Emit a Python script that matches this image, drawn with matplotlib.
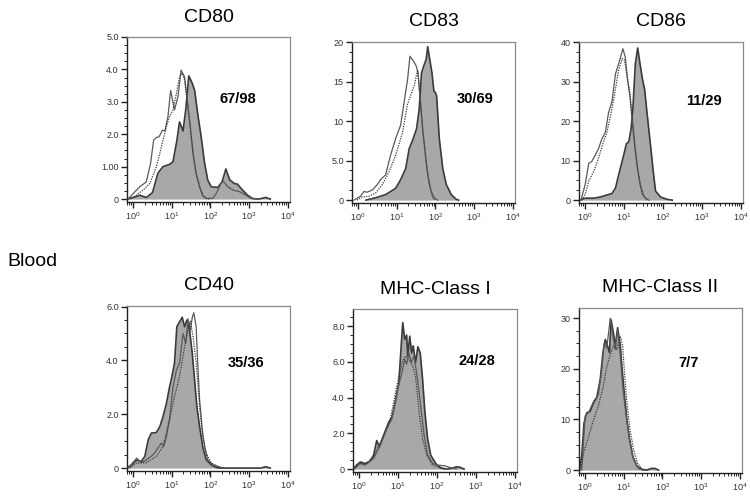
import numpy as np
import matplotlib
matplotlib.use("Agg")
import matplotlib.pyplot as plt
from matplotlib.ticker import FixedLocator, AutoMinorLocator, LogLocator, LogFormatterSciNotation, NullFormatter

plt.rcParams['font.family'] = ['Liberation Sans', 'DejaVu Sans']

# ---------------- data (x values are log10 of fluorescence) ----------------
titles = ["CD80", "CD83", "CD86", "CD40", "MHC-Class I", "MHC-Class II"]
ratios = ["67/98", "30/69", "11/29", "35/36", "24/28", "7/7"]
ratio_pos_log = [2.7, 3.02, 3.06, 2.92, 3.02, 2.67]
ratio_pos_y = [3.1, 12.8, 25.0, 3.9, 6.05, 21.2]
ytick_vals = [[0, 1, 2, 3, 4, 5], [0, 5, 10, 15, 20], [0, 10, 20, 30, 40],
              [0, 2, 4, 6], [0, 2, 4, 6, 8], [0, 10, 20, 30]]
ytick_labels = [["0", "1.00", "2.0", "3.0", "4.0", "5.0"], ["0", "5.0", "10", "15", "20"],
                ["0", "10", "20", "30", "40"], ["0", "2.0", "4.0", "6.0"],
                ["0", "2.0", "4.0", "6.0", "8.0"], ["0", "10", "20", "30"]]
ymax = [5.0, 20.0, 40.0, 6.02, 8.96, 32.0]
row_label = "Blood"

# CD80
cd80_fill_x = [-0.17, 0.0, 0.17, 0.34, 0.5, 0.64, 0.77, 0.94, 1.03, 1.13, 1.2, 1.29, 1.36, 1.44, 1.53, 1.59, 1.67, 1.76, 1.85, 1.93, 2.02, 2.19, 2.3, 2.4, 2.5, 2.62, 2.7, 2.83, 2.96, 3.09, 3.25, 3.43, 3.55]
cd80_fill_y = [0, 0.05, 0.12, 0.05, 0.2, 0.8, 1.0, 1.07, 1.15, 1.8, 2.38, 2.1, 2.75, 3.8, 3.57, 3.36, 2.64, 1.92, 1.1, 0.59, 0.38, 0.36, 0.53, 0.93, 0.59, 0.48, 0.46, 0.28, 0.12, 0.02, 0, 0.05, 0]
cd80_solid_x = [-0.13, 0.0, 0.17, 0.34, 0.45, 0.53, 0.6, 0.67, 0.76, 0.82, 0.9, 0.97, 1.07, 1.16, 1.24, 1.33, 1.39, 1.46, 1.55, 1.63, 1.72, 1.8, 1.89, 2.06, 2.15, 2.27, 2.33, 2.45, 2.58, 2.75, 2.92, 3.05, 3.2]
cd80_solid_y = [0, 0.17, 0.38, 0.53, 1.1, 1.82, 1.9, 1.92, 2.13, 2.1, 2.54, 3.35, 2.75, 3.16, 3.98, 3.77, 3.16, 2.44, 1.41, 0.79, 0.38, 0.12, 0.02, 0.02, 0.17, 0.48, 0.55, 0.38, 0.28, 0.23, 0.12, 0.02, 0]
cd80_dot_x = [-0.1, 0.0, 0.26, 0.43, 0.6, 0.69, 0.77, 0.86, 0.94, 1.03, 1.12, 1.2, 1.27, 1.33, 1.39, 1.46, 1.55, 1.63, 1.72, 1.8, 1.89, 2.0]
cd80_dot_y = [0, 0.05, 0.28, 0.48, 1.0, 1.41, 1.82, 2.23, 2.54, 2.75, 3.26, 3.77, 3.88, 3.67, 3.1, 2.4, 1.4, 0.78, 0.37, 0.1, 0.02, 0]

# CD83
cd83_fill_x = [0.2, 0.45, 0.71, 0.97, 1.1, 1.23, 1.32, 1.41, 1.51, 1.58, 1.64, 1.7, 1.76, 1.8, 1.86, 1.91, 1.96, 2.0, 2.03, 2.1, 2.19, 2.28, 2.41, 2.54, 2.6]
cd83_fill_y = [0, 0.3, 0.7, 1.5, 2.6, 4.0, 6.5, 7.6, 9.0, 11.5, 16.1, 17.0, 17.8, 19.4, 17.6, 16.1, 13.8, 13.6, 13.2, 7.8, 4.0, 2.0, 0.7, 0.1, 0]
cd83_solid_x = [-0.11, 0.06, 0.15, 0.23, 0.37, 0.5, 0.58, 0.71, 0.84, 0.97, 1.1, 1.19, 1.28, 1.34, 1.43, 1.5, 1.55, 1.6, 1.67, 1.74, 1.8, 1.89, 1.97, 2.06]
cd83_solid_y = [0, 0.5, 1.1, 1.0, 1.3, 2.0, 2.6, 3.2, 5.7, 7.8, 9.5, 12.4, 15.3, 18.2, 17.6, 17.0, 16.1, 13.2, 9.0, 5.7, 3.2, 1.1, 0.3, 0]
cd83_dot_x = [-0.03, 0.1, 0.28, 0.45, 0.63, 0.8, 0.97, 1.15, 1.28, 1.37, 1.45, 1.54, 1.6, 1.67, 1.76, 1.84, 1.93, 2.0]
cd83_dot_y = [0, 0.4, 0.5, 0.9, 2.0, 3.6, 5.7, 8.6, 12.2, 13.4, 14.5, 16.5, 13.0, 9.0, 4.9, 2.0, 0.3, 0]

# CD86
cd86_fill_x = [-0.13, 0.0, 0.22, 0.39, 0.56, 0.69, 0.78, 0.86, 0.95, 1.01, 1.06, 1.12, 1.18, 1.23, 1.29, 1.35, 1.41, 1.47, 1.53, 1.59, 1.68, 1.75, 1.81, 1.94, 2.11, 2.24]
cd86_fill_y = [0, 0.5, 0.5, 0.8, 1.3, 1.7, 3.1, 6.4, 9.8, 12.2, 14.3, 14.7, 18.0, 23.8, 34.5, 38.5, 34.5, 30.8, 27.9, 22.1, 13.9, 7.3, 2.3, 0.8, 0.2, 0]
cd86_solid_x = [-0.11, 0.0, 0.09, 0.17, 0.26, 0.34, 0.43, 0.52, 0.6, 0.69, 0.78, 0.86, 0.97, 1.03, 1.09, 1.15, 1.21, 1.27, 1.34, 1.41, 1.47, 1.55, 1.64]
cd86_solid_y = [0, 4.0, 9.3, 9.8, 11.4, 13.0, 15.5, 17.2, 22.1, 25.0, 32.0, 34.5, 38.3, 36.2, 30.4, 26.3, 19.7, 13.9, 8.1, 4.0, 1.5, 0.5, 0]
cd86_dot_x = [-0.09, 0.0, 0.09, 0.22, 0.34, 0.47, 0.56, 0.65, 0.75, 0.86, 0.95, 1.01, 1.08, 1.15, 1.22, 1.29, 1.35, 1.42, 1.51, 1.59]
cd86_dot_y = [0, 1.5, 4.8, 7.3, 10.6, 14.7, 17.2, 21.3, 26.3, 32.9, 35.8, 35.4, 31.2, 27.1, 20.5, 13.0, 8.1, 4.0, 1.0, 0]

# CD40
cd40_fill_x = [-0.17, -0.04, 0.09, 0.21, 0.3, 0.39, 0.47, 0.6, 0.69, 0.77, 0.86, 0.94, 1.01, 1.07, 1.13, 1.2, 1.27, 1.33, 1.39, 1.46, 1.53, 1.59, 1.65, 1.72, 1.8, 1.89, 2.02, 2.15, 2.25, 3.3, 3.43, 3.55]
cd40_fill_y = [0, 0.12, 0.3, 0.25, 0.43, 1.05, 1.3, 1.32, 1.54, 1.9, 2.4, 3.0, 3.45, 3.9, 5.25, 5.43, 5.6, 5.25, 5.5, 5.12, 4.26, 3.27, 2.28, 1.54, 0.8, 0.31, 0.12, 0.02, 0, 0, 0.05, 0]
cd40_solid_x = [-0.13, 0.09, 0.21, 0.34, 0.52, 0.64, 0.73, 0.79, 0.86, 0.94, 1.03, 1.12, 1.2, 1.29, 1.36, 1.42, 1.48, 1.53, 1.57, 1.63, 1.67, 1.72, 1.79, 1.85, 1.93, 2.06, 2.23, 2.35]
cd40_solid_y = [0, 0.37, 0.2, 0.3, 0.5, 0.74, 0.93, 0.8, 1.17, 1.8, 3.0, 3.64, 3.9, 5.0, 4.63, 5.55, 5.12, 5.6, 5.77, 5.25, 3.9, 2.53, 1.42, 0.8, 0.31, 0.12, 0.04, 0]
cd40_dot_x = [-0.09, 0.09, 0.34, 0.6, 0.77, 0.86, 0.94, 1.07, 1.2, 1.33, 1.42, 1.48, 1.55, 1.63, 1.72, 1.8, 1.89, 2.02, 2.23, 2.35]
cd40_dot_y = [0, 0.19, 0.2, 0.43, 0.8, 1.3, 1.8, 2.65, 3.4, 4.5, 5.12, 5.45, 4.88, 3.9, 2.28, 1.17, 0.56, 0.19, 0.04, 0]

# MHC-Class I
mhc1_fill_x = [-0.16, -0.07, 0.03, 0.15, 0.28, 0.37, 0.45, 0.52, 0.63, 0.76, 0.84, 0.93, 1.02, 1.08, 1.12, 1.17, 1.22, 1.25, 1.3, 1.35, 1.39, 1.45, 1.51, 1.57, 1.63, 1.69, 1.76, 1.84, 1.97, 2.1, 2.25, 2.4, 2.5, 2.6, 2.7]
mhc1_fill_y = [0, 0.22, 0.4, 0.31, 0.44, 0.78, 1.6, 1.24, 1.9, 2.63, 2.9, 3.74, 4.85, 6.9, 8.2, 7.26, 7.5, 6.33, 7.44, 6.5, 6.9, 5.96, 6.85, 6.5, 5.04, 3.19, 1.7, 0.78, 0.31, 0.07, 0, 0.05, 0.13, 0.1, 0]
mhc1_solid_x = [-0.12, 0.02, 0.15, 0.37, 0.54, 0.71, 0.84, 0.97, 1.1, 1.17, 1.22, 1.28, 1.34, 1.41, 1.5, 1.58, 1.67, 1.76, 1.89, 2.02, 2.19, 2.37, 2.5]
mhc1_solid_y = [0, 0.31, 0.22, 0.59, 1.33, 2.26, 2.8, 4.3, 5.4, 6.15, 5.87, 6.5, 5.96, 6.33, 5.04, 3.56, 1.9, 0.78, 0.31, 0.22, 0.19, 0.07, 0]
mhc1_dot_x = [-0.16, -0.03, 0.19, 0.41, 0.63, 0.8, 0.97, 1.1, 1.19, 1.28, 1.37, 1.45, 1.54, 1.63, 1.74, 1.89, 2.06, 2.2]
mhc1_dot_y = [0, 0.31, 0.31, 0.87, 1.9, 2.8, 4.67, 5.96, 6.33, 6.15, 5.78, 5.2, 3.19, 1.7, 0.78, 0.22, 0.07, 0]

# MHC-Class II
mhc2_fill_x = [-0.15, -0.09, -0.03, 0.04, 0.13, 0.22, 0.3, 0.39, 0.46, 0.52, 0.58, 0.63, 0.67, 0.73, 0.78, 0.84, 0.91, 0.95, 1.01, 1.08, 1.15, 1.23, 1.34, 1.47, 1.6, 1.7, 1.8, 1.9]
mhc2_fill_y = [0, 2.8, 9.3, 11.3, 11.6, 13.3, 14.3, 17.9, 23.2, 25.8, 24.5, 23.2, 29.7, 27.1, 24.5, 28.1, 24.5, 20.5, 15.3, 10.0, 6.05, 2.76, 0.8, 0.13, 0, 0.3, 0.35, 0]
mhc2_solid_x = [-0.09, 0.0, 0.09, 0.22, 0.34, 0.43, 0.49, 0.56, 0.65, 0.72, 0.78, 0.84, 0.91, 0.97, 1.06, 1.15, 1.25, 1.38, 1.5]
mhc2_solid_y = [0, 10.7, 11.4, 13.6, 14.9, 19.9, 25.1, 24.1, 30.0, 26.4, 23.8, 27.8, 22.5, 16.6, 10.7, 6.0, 2.1, 0.3, 0]
mhc2_dot_x = [-0.13, -0.04, 0.09, 0.22, 0.34, 0.47, 0.56, 0.65, 0.73, 0.82, 0.91, 0.97, 1.03, 1.09, 1.16, 1.25, 1.35, 1.47, 1.6]
mhc2_dot_y = [0, 3.4, 6.7, 10.0, 12.6, 16.6, 20.5, 22.8, 24.5, 23.8, 26.4, 24.5, 17.9, 12.6, 8.0, 4.1, 1.45, 0.2, 0]

panels = [
    (cd80_fill_x, cd80_fill_y, cd80_solid_x, cd80_solid_y, cd80_dot_x, cd80_dot_y),
    (cd83_fill_x, cd83_fill_y, cd83_solid_x, cd83_solid_y, cd83_dot_x, cd83_dot_y),
    (cd86_fill_x, cd86_fill_y, cd86_solid_x, cd86_solid_y, cd86_dot_x, cd86_dot_y),
    (cd40_fill_x, cd40_fill_y, cd40_solid_x, cd40_solid_y, cd40_dot_x, cd40_dot_y),
    (mhc1_fill_x, mhc1_fill_y, mhc1_solid_x, mhc1_solid_y, mhc1_dot_x, mhc1_dot_y),
    (mhc2_fill_x, mhc2_fill_y, mhc2_solid_x, mhc2_solid_y, mhc2_dot_x, mhc2_dot_y),
]

# ---------------- layout (pixel boxes: left, right, top, bottom) ----------------
W, H = 750, 499
boxes = [(127, 290, 37, 202), (352, 515, 42, 203), (579, 743, 42, 203),
         (127, 290, 306, 471), (353, 517, 309, 472), (579, 742, 308, 473)]

fig = plt.figure(figsize=(W / 100, H / 100), dpi=100)
fig.patch.set_facecolor("white")

fill_col = "#a8a8a8"
edge_col = "#3a3a3a"
line_col = "#5a5a5a"
dot_col = "#3a3a3a"

for i, (box, data) in enumerate(zip(boxes, panels)):
    l, r, t, b = box
    ax = fig.add_axes([l / W, 1 - b / H, (r - l) / W, (b - t) / H])
    fx, fy, sx, sy, dx, dy = data
    fx = 10 ** np.array(fx); sx = 10 ** np.array(sx); dx = 10 ** np.array(dx)
    ax.fill_between(fx, 0, fy, color=fill_col, lw=0, zorder=1)
    ax.plot(fx, fy, color=edge_col, lw=1.2, zorder=2)
    ax.plot(sx, sy, color=line_col, lw=0.9, zorder=3)
    ax.plot(dx, dy, color=dot_col, lw=0.9, ls=(0, (1, 1)), zorder=4)

    ax.set_xscale("log")
    ax.set_xlim(10 ** -0.16, 10 ** 4.06)
    top = ymax[i]
    ax.set_ylim(-0.018 * top, top)

    ax.xaxis.set_major_locator(FixedLocator([1, 10, 100, 1000, 10000]))
    ax.xaxis.set_major_formatter(LogFormatterSciNotation())
    ax.xaxis.set_minor_locator(LogLocator(base=10, subs=np.arange(2, 10), numticks=20))
    ax.xaxis.set_minor_formatter(NullFormatter())
    ax.set_yticks(ytick_vals[i])
    ax.set_yticklabels(ytick_labels[i])
    ax.yaxis.set_minor_locator(AutoMinorLocator(4))

    ax.tick_params(axis="both", which="major", direction="out", length=4, width=1,
                   color="#222222", labelsize=6.5, labelcolor="#333333", pad=2)
    ax.tick_params(axis="both", which="minor", direction="out", length=2, width=0.7,
                   color="#222222")
    for s in ["left", "bottom"]:
        ax.spines[s].set_color("#222222"); ax.spines[s].set_linewidth(1.0)
    for s in ["top", "right"]:
        ax.spines[s].set_color("#8a8a8a"); ax.spines[s].set_linewidth(0.9)

    ax.text(10 ** ratio_pos_log[i], ratio_pos_y[i], ratios[i], ha="center", va="center",
            fontsize=10.5, fontweight="bold", color="black")
    fig.text((l + r) / 2 / W, 1 - (t - 20) / H, titles[i], ha="center", va="center",
             fontsize=14, color="black")

fig.text(7 / W, 1 - 262 / H, row_label, ha="left", va="center", fontsize=14, color="black")

fig.savefig("out.png", dpi=100, facecolor="white")
